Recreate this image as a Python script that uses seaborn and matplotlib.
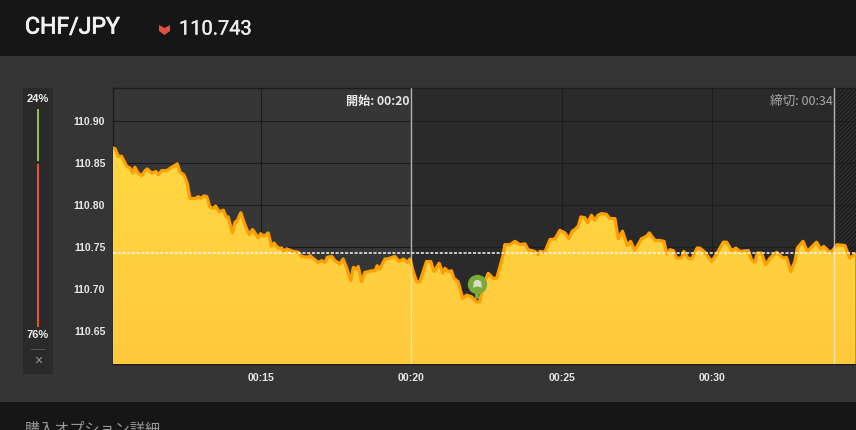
import numpy as np
import pandas as pd
import seaborn as sns
import matplotlib.pyplot as plt
import matplotlib.patheffects as pe
from matplotlib.patches import Rectangle, Polygon

pair_name = 'CHF/JPY'
current_price = 110.743
call_pct = '24%'
put_pct = '76%'
start_label = '開始: 00:20'
close_label = '締切: 00:34'
footer_label = '購入オプション詳細'
start_minute = 20.0
close_minute = 34.05
entry_minute = 22.18
entry_price = 110.706
entry_tip = 110.689

y_ticks = [110.65, 110.70, 110.75, 110.80, 110.85, 110.90]
x_ticks = [15, 20, 25, 30]
x_labels = ['00:15', '00:20', '00:25', '00:30']

minutes = [
    10.08, 10.15, 10.26, 10.37, 10.54, 10.65, 10.74, 10.81, 10.92, 11.04, 11.15, 11.22, 11.37, 11.51, 11.59,
    11.70, 11.87, 12.03, 12.22, 12.31, 12.44, 12.55, 12.64, 12.81, 12.92, 13.00, 13.11, 13.20, 13.30, 13.41,
    13.49, 13.61, 13.75, 13.84, 13.91, 14.05, 14.14, 14.19, 14.33, 14.47, 14.61, 14.72, 14.91, 14.99, 15.10,
    15.24, 15.35, 15.43, 15.57, 15.69, 15.76, 15.85, 16.07, 16.24, 16.35, 16.57, 16.63, 16.79, 16.90, 17.02,
    17.13, 17.20, 17.35, 17.46, 17.62, 17.73, 17.85, 17.98, 18.07, 18.18, 18.23, 18.34, 18.45, 18.68, 18.79,
    18.86, 18.95, 19.12, 19.20, 19.45, 19.59, 19.73, 19.86, 19.95, 20.06, 20.17, 20.28, 20.50, 20.64, 20.75,
    20.92, 21.04, 21.11, 21.22, 21.33, 21.41, 21.55, 21.70, 21.83, 22.00, 22.16, 22.27, 22.36, 22.55, 22.71,
    22.83, 22.94, 23.05, 23.10, 23.27, 23.44, 23.60, 23.77, 23.88, 24.10, 24.21, 24.27, 24.43, 24.60, 24.77,
    24.93, 25.10, 25.23, 25.34, 25.43, 25.54, 25.63, 25.76, 25.85, 25.98, 26.09, 26.20, 26.32, 26.48, 26.59,
    26.76, 26.87, 27.01, 27.17, 27.28, 27.42, 27.53, 27.64, 27.81, 27.90, 28.09, 28.25, 28.39, 28.48, 28.59,
    28.70, 28.81, 28.97, 29.05, 29.19, 29.31, 29.49, 29.58, 29.75, 29.97, 30.14, 30.36, 30.47, 30.64, 30.78,
    30.91, 31.19, 31.30, 31.41, 31.49, 31.63, 31.77, 31.91, 32.13, 32.35, 32.46, 32.60, 32.74, 32.82, 33.01,
    33.15, 33.46, 33.59, 33.70, 33.84, 33.95, 34.14, 34.40, 34.56, 34.76,
]
prices = [
    110.868, 110.867, 110.858, 110.858, 110.846, 110.844, 110.838, 110.845, 110.838, 110.835, 110.841, 110.843,
    110.838, 110.840, 110.836, 110.841, 110.841, 110.845, 110.849, 110.839, 110.836, 110.826, 110.808, 110.808,
    110.810, 110.808, 110.811, 110.810, 110.798, 110.796, 110.799, 110.792, 110.794, 110.786, 110.786, 110.767,
    110.780, 110.780, 110.791, 110.776, 110.765, 110.771, 110.761, 110.766, 110.763, 110.767, 110.751, 110.755,
    110.749, 110.749, 110.745, 110.748, 110.745, 110.744, 110.739, 110.738, 110.740, 110.735, 110.732, 110.734,
    110.732, 110.738, 110.739, 110.734, 110.730, 110.736, 110.725, 110.710, 110.726, 110.724, 110.727, 110.709,
    110.720, 110.722, 110.722, 110.728, 110.724, 110.736, 110.736, 110.739, 110.733, 110.736, 110.732, 110.736,
    110.721, 110.709, 110.709, 110.733, 110.733, 110.721, 110.731, 110.719, 110.725, 110.721, 110.722, 110.713,
    110.709, 110.689, 110.693, 110.691, 110.685, 110.685, 110.703, 110.719, 110.713, 110.713, 110.727, 110.741,
    110.753, 110.753, 110.757, 110.753, 110.754, 110.747, 110.745, 110.741, 110.745, 110.744, 110.759, 110.760,
    110.770, 110.767, 110.760, 110.769, 110.771, 110.775, 110.786, 110.785, 110.779, 110.788, 110.782, 110.788,
    110.790, 110.789, 110.784, 110.784, 110.760, 110.769, 110.752, 110.757, 110.746, 110.753, 110.760, 110.763,
    110.767, 110.758, 110.758, 110.757, 110.742, 110.747, 110.746, 110.737, 110.737, 110.745, 110.737, 110.736,
    110.749, 110.749, 110.744, 110.733, 110.742, 110.756, 110.756, 110.746, 110.749, 110.745, 110.746, 110.735,
    110.732, 110.743, 110.743, 110.729, 110.737, 110.744, 110.737, 110.738, 110.721, 110.733, 110.749, 110.757,
    110.745, 110.756, 110.748, 110.751, 110.746, 110.744, 110.753, 110.752, 110.737, 110.742,
]

W, H = 856, 430
LATIN = 'Liberation Sans'
ROBOTO = 'Roboto'
JP = ['Noto Sans CJK JP', 'DejaVu Sans']

sns.set_theme(style='dark')
plt.rcParams['hatch.linewidth'] = 0.9
plt.rcParams['hatch.color'] = '#191919'

fig = plt.figure(figsize=(W / 100, H / 100), dpi=100, facecolor='#353535')


def fx(x):
    return x / W


def fy(y):
    return 1 - y / H


def frect(x0, y0, x1, y1, color):
    fig.add_artist(Rectangle((fx(x0), fy(y1)), (x1 - x0) / W, (y1 - y0) / H, transform=fig.transFigure,
                             facecolor=color, edgecolor='none', linewidth=0))


def ftext(x, y, s, **kw):
    return fig.text(fx(x), fy(y), s, **kw)


# page bands
frect(0, 0, W, 56, '#161616')
frect(0, 402, W, H, '#161616')

title = ftext(25, 27, pair_name, family=ROBOTO, fontsize=16.6, color='#f2f2f2', va='center')
title.set_path_effects([pe.withStroke(linewidth=0.6, foreground='#f2f2f2')])
price_txt = ftext(179, 29, f'{current_price:.3f}', family=ROBOTO, fontsize=14.4, color='#eeeeee', va='center')
price_txt.set_path_effects([pe.withStroke(linewidth=0.25, foreground='#eeeeee')])
fig.add_artist(Polygon([(fx(159), fy(25)), (fx(164.5), fy(28)), (fx(170), fy(25)), (fx(170), fy(31)),
                        (fx(164.5), fy(35)), (fx(159), fy(31))], closed=True, transform=fig.transFigure,
                       facecolor='#e2513c', edgecolor='none'))
ftext(25, 421, footer_label, family=JP, fontsize=10.9, color='#9a9a9a', va='top')

# call/put side bar
frect(23, 88, 53, 374, '#2a2a2a')
frect(37, 109, 39, 161, '#8cc63f')
frect(37, 164, 39, 327, '#e8562a')
frect(31, 349, 45, 350, '#555555')
ftext(38, 98.5, call_pct, family=LATIN, fontsize=8, fontweight='bold', color='#eeeeee', ha='center', va='center')
ftext(38, 335.5, put_pct, family=LATIN, fontsize=8, fontweight='bold', color='#eeeeee', ha='center', va='center')
ftext(38, 361, '×', family=LATIN, fontsize=10, color='#9a9a9a', ha='center', va='center')

# main chart
ax = fig.add_axes([fx(113), fy(364), (856 - 113) / W, (364 - 88) / H])
ax.set_facecolor('#363636')
x_min, x_max = 10.083, 34.77
y_min, y_max = 110.6112, 110.9392

ax.axvspan(start_minute, close_minute, facecolor='#2a2a2a', edgecolor='none', zorder=0)
ax.axvspan(close_minute, x_max, facecolor='#2e2e2e', edgecolor='#191919', hatch='////////', linewidth=0, zorder=0)

for t in x_ticks:
    ax.axvline(t, color='#1c1c1c', lw=0.8, zorder=1)
for p in y_ticks:
    ax.axhline(p, color='#1c1c1c', lw=0.8, zorder=1)

df = pd.DataFrame({'minute': minutes, 'price': prices})

area = ax.fill_between(df['minute'], df['price'], y_min, color='none', linewidth=0, zorder=2)
shade = np.linspace(0, 1, 256)[:, None, None]
top_colour = np.array([255, 216, 66]) / 255
low_colour = np.array([255, 201, 60]) / 255
grad = ax.imshow(top_colour * (1 - shade) + low_colour * shade, extent=[x_min, x_max, y_min, 110.87],
                 aspect='auto', origin='upper', zorder=2)
grad.set_clip_path(area.get_paths()[0], ax.transData)

sns.lineplot(data=df, x='minute', y='price', ax=ax, color='#ff9f00', linewidth=2.3, estimator=None, sort=False,
             zorder=3)

ax.axhline(current_price, color='#f8f8f8', lw=1.1, ls=(0, (2, 1.1)), zorder=4)
ax.axvline(start_minute, color='#f0f0f0', lw=1.0, alpha=0.7, zorder=5)
ax.axvline(close_minute, color='#f0f0f0', lw=1.0, alpha=0.7, zorder=5)

# entry pin
pin_green = '#7aa93c'
ax.vlines(entry_minute, entry_tip, entry_price, color=pin_green, lw=2.8, zorder=6)
ax.scatter([entry_minute], [entry_price], s=195, color=pin_green, linewidths=0, zorder=6)
flag = [(-1, -0.7), (-0.8, 0.6), (-0.3, 1), (0.3, 1), (0.8, 0.6), (1, -0.7), (0, -0.4)]
ax.scatter([entry_minute], [entry_price], s=42, marker=flag, color='#d9dccb', linewidths=0, zorder=7)

ax.set_xlim(x_min, x_max)
ax.set_ylim(y_min, y_max)
ax.set_xticks(x_ticks)
ax.set_xticklabels(x_labels)
ax.set_yticks(y_ticks)
ax.set_yticklabels([f'{v:.2f}' for v in y_ticks])
ax.set_xlabel('')
ax.set_ylabel('')
ax.tick_params(axis='both', length=0, labelsize=7.6, labelcolor='#e6e6e6')
ax.tick_params(axis='x', pad=6.5)
ax.tick_params(axis='y', pad=5.5)
for lab in ax.get_xticklabels() + ax.get_yticklabels():
    lab.set_family(LATIN)
    lab.set_fontweight('bold')
for name, sp in ax.spines.items():
    sp.set_visible(name in ('left', 'top', 'bottom'))
    sp.set_color('#1c1c1c')
    sp.set_linewidth(1.0)
    sp.set_zorder(1)

ftext(410, 101.5, start_label, family=JP, fontsize=8.7, fontweight='bold', color='#e8e8e8', ha='right', va='center')
ftext(833, 101.5, close_label, family=JP, fontsize=9.1, color='#a8a8a8', ha='right', va='center')

fig.savefig('out.png', dpi=100, facecolor=fig.get_facecolor())
